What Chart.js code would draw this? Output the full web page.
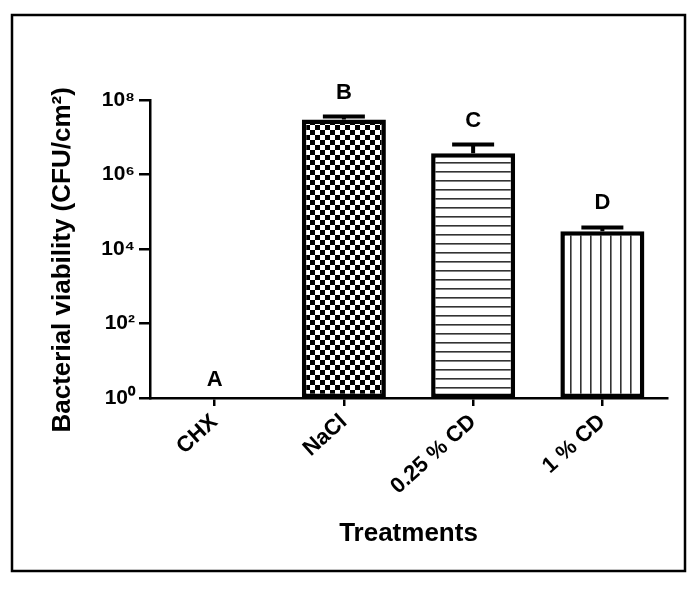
<!DOCTYPE html>
<html>
<head>
<meta charset="utf-8">
<script src="https://cdn.jsdelivr.net/npm/chart.js@4"></script>
<style>
  html, body { margin: 0; padding: 0; background: #fff; }
  canvas { display: block; }
</style>
</head>
<body>
<canvas id="c" width="698" height="589"></canvas>
<script>
// ---- data ----
const categories = ['CHX', 'NaCl', '0.25 % CD', '1 % CD'];
const viability = [0, 3.0e7, 3.7e6, 3.0e4];          // CFU/cm² (mean)
const upperError = [null, 3.6e7, 6.4e6, 3.8e4];      // mean + SD
const sigLetters = ['A', 'B', 'C', 'D'];
const yTickValues = [1, 1e2, 1e4, 1e6, 1e8];
const yTickLabels = ['10\u2070', '10\u00B2', '10\u2074', '10\u2076', '10\u2078'];
const yTitle = 'Bacterial viability (CFU/cm\u00B2)';
const xTitle = 'Treatments';

// ---- fill patterns ----
function makePattern(w, h, draw) {
  const t = document.createElement('canvas');
  t.width = w; t.height = h;
  const g = t.getContext('2d');
  g.fillStyle = '#fff'; g.fillRect(0, 0, w, h);
  draw(g);
  return document.createElement('canvas').getContext('2d').createPattern(t, 'repeat');
}
const checker = makePattern(10, 10, g => {
  g.fillStyle = '#000';
  g.fillRect(0, 0, 5, 5);
  g.fillRect(5, 5, 5, 5);
});
const hLines = makePattern(4, 9, g => {
  g.fillStyle = '#333';
  g.fillRect(0, 0, 4, 1.6);
});
const vLines = makePattern(10, 4, g => {
  g.fillStyle = '#333';
  g.fillRect(0, 0, 1.6, 4);
});
const fills = ['#fff', checker, hLines, vLines];

const FONT = "'Liberation Sans', Arial, sans-serif";

const frame = {
  id: 'frame',
  afterDraw(chart) {
    const ctx = chart.ctx;
    ctx.save();
    ctx.strokeStyle = '#000';
    ctx.lineWidth = 2.5;
    ctx.strokeRect(12, 15, 673, 556);
    ctx.restore();
  }
};

const errorsAndLetters = {
  id: 'errorsAndLetters',
  afterDraw(chart) {
    const ctx = chart.ctx;
    const y = chart.scales.y;
    const meta = chart.getDatasetMeta(0);
    ctx.save();
    ctx.strokeStyle = '#000';
    ctx.lineWidth = 4;
    ctx.fillStyle = '#000';
    ctx.font = 'bold 22px ' + FONT;
    ctx.textAlign = 'center';
    ctx.textBaseline = 'middle';
    meta.data.forEach((bar, i) => {
      const x = bar.x;
      let top = viability[i] > 0 ? y.getPixelForValue(viability[i]) : y.bottom;
      if (upperError[i] != null) {
        const e = y.getPixelForValue(upperError[i]);
        ctx.beginPath();
        ctx.moveTo(x, top);
        ctx.lineTo(x, e);
        ctx.moveTo(x - 21, e);
        ctx.lineTo(x + 21, e);
        ctx.stroke();
        top = e;
      }
      ctx.fillText(sigLetters[i], x, top - (upperError[i] != null ? 24 : 18));
    });
    ctx.restore();
  }
};

new Chart(document.getElementById('c'), {
  type: 'bar',
  data: {
    labels: categories,
    datasets: [{
      data: viability,
      backgroundColor: fills,
      borderColor: '#000',
      borderWidth: 4.5,
      borderSkipped: false,
      categoryPercentage: 1,
      barPercentage: 0.65
    }]
  },
  options: {
    responsive: false,
    animation: false,
    layout: { padding: { left: 0, top: 100, right: 31, bottom: 0 } },
    plugins: { legend: { display: false }, tooltip: { enabled: false } },
    scales: {
      x: {
        offset: true,
        afterFit(s) { s.height = 191; },
        border: { display: true, color: '#000', width: 2.5 },
        grid: { drawOnChartArea: false, drawTicks: true, tickLength: 8, color: '#000', lineWidth: 2.5, offset: false },
        ticks: {
          color: '#000', autoSkip: false, maxRotation: 42, minRotation: 42, padding: 3,
          font: { family: FONT, size: 22, weight: 'bold' }
        },
        title: {
          display: true, text: xTitle, color: '#000',
          font: { family: FONT, size: 26, weight: 'bold' },
          padding: { top: 0, bottom: 40 }
        }
      },
      y: {
        type: 'logarithmic',
        min: 1, max: 1e8,
        afterFit(s) { s.width = 150; },
        afterBuildTicks(s) { s.ticks = yTickValues.map(v => ({ value: v, major: true })); },
        border: { display: true, color: '#000', width: 2.5 },
        grid: { drawOnChartArea: false, drawTicks: true, tickLength: 11, color: '#000', lineWidth: 2.5 },
        ticks: {
          color: '#000', padding: 4,
          font: { family: FONT, size: 21, weight: 'bold' },
          callback(v) { const i = yTickValues.indexOf(v); return i >= 0 ? yTickLabels[i] : ''; }
        },
        title: {
          display: true, text: yTitle + '\u00A0\u00A0\u00A0', color: '#000',
          font: { family: FONT, size: 26, weight: 'bold' },
          padding: { top: 47, bottom: 0 }
        }
      }
    }
  },
  plugins: [frame, errorsAndLetters]
});
</script>
</body>
</html>
